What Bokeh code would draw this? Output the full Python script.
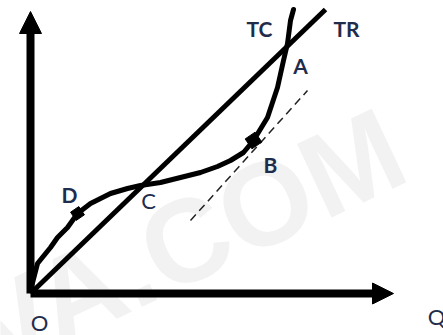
from bokeh.plotting import figure
from bokeh.models import Range1d, Arrow, NormalHead
from bokeh.core.properties import value
from bokeh.embed import file_html
from bokeh.resources import INLINE

# Total cost curve (hand-drawn S shape), quantity vs cost
tc_q = [0.0, 0.7, 2.0, 2.7, 3.7, 4.7, 6.0, 7.0, 8.0, 9.7, 11.0, 13.0, 15.0, 17.0, 18.7, 20.0, 21.3, 22.3, 23.7, 24.7, 25.3, 25.7, 26.0, 26.3]
tc_c = [0.3, 3.0, 4.6, 5.6, 6.6, 8.0, 9.0, 9.5, 10.0, 10.5, 10.8, 11.1, 11.6, 12.1, 12.7, 13.3, 14.1, 15.3, 17.6, 20.6, 23.3, 25.0, 27.3, 28.4]

# Total revenue line
tr_q = [0.0, 29.5]
tr_c = [0.0, 28.4]

# Tangent to TC parallel to TR (dashed)
tan_q = [16.0, 27.7]
tan_c = [7.3, 20.3]

# Marked points on TC
mark_q = [4.7, 22.3]
mark_c = [8.0, 15.3]

# Axis extents
x_axis_end = 36.3
y_axis_end = 28.2

# Labels
bold_labels = ["TC", "TR", "A", "B", "D"]
bold_q = [22.9, 31.6, 27.0, 24.0, 3.9]
bold_c = [26.5, 26.5, 22.8, 12.9, 9.9]
plain_labels = ["C", "O", "Q"]
plain_q = [11.8, 0.9, 40.6]
plain_c = [9.3, -2.9, -2.3]

watermark = ["VA.COM"]
wm_q = [15.6]
wm_c = [5.3]

p = figure(width=443, height=335, x_range=Range1d(-3.0, 41.3), y_range=Range1d(-4.2, 29.3),
           output_backend="svg", toolbar_location=None, x_axis_location=None, y_axis_location=None,
           min_border=0, outline_line_color=None)
p.grid.visible = False
p.background_fill_color = "white"
p.border_fill_color = "white"

# watermark
p.text(x=wm_q, y=wm_c, text=watermark, angle=0.44, text_align="center", text_baseline="middle",
       text_font=value("Liberation Sans"), text_font_style="bold", text_font_size="118px",
       text_color="#f2f2f2")

# axes
p.add_layout(Arrow(x_start=0, y_start=0, x_end=0, y_end=y_axis_end, line_width=8, line_color="black",
                   end=NormalHead(size=22, fill_color="black", line_color="black", line_width=1)))
p.add_layout(Arrow(x_start=0, y_start=0, x_end=x_axis_end, y_end=0, line_width=8, line_color="black",
                   end=NormalHead(size=21, fill_color="black", line_color="black", line_width=1)))

# TR line
p.line(tr_q, tr_c, line_width=5, line_color="black")
# dashed tangent
p.line(tan_q, tan_c, line_width=1.5, line_color="#222222", line_dash="8 5")
# TC curve
p.line(tc_q, tc_c, line_width=5, line_color="black", line_join="round", line_cap="round")
p.scatter(mark_q, mark_c, marker="square", size=[10, 12], angle=0.6, color="black")

txt = "#1f2d4d"
p.text(x=bold_q, y=bold_c, text=bold_labels, text_align="center", text_baseline="middle",
       text_font=value("Lato"), text_font_style="bold", text_font_size="21px", text_color=txt)
p.text(x=plain_q, y=plain_c, text=plain_labels, text_align="center", text_baseline="middle",
       text_font=value("Lato"), text_font_style="normal", text_font_size="22px", text_color=txt)

open("out.html", "w").write(file_html(p, INLINE))
